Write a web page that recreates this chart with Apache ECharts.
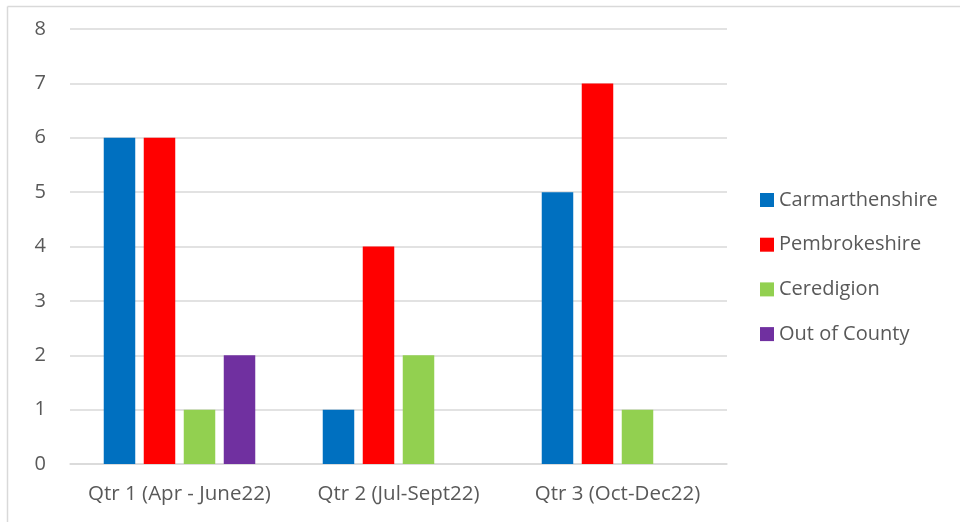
<!DOCTYPE html>
<html>
<head>
<meta charset="utf-8">
<script src="https://cdn.jsdelivr.net/npm/echarts@6/dist/echarts.min.js"></script>
<style>
  html, body { margin: 0; padding: 0; background: #fff; }
  #chart { width: 960px; height: 522px; }
</style>
</head>
<body>
<div id="chart"></div>
<script>
// Quarterly counts by county of residence
const categories = ['Qtr 1 (Apr - June22)', 'Qtr 2 (Jul-Sept22)', 'Qtr 3 (Oct-Dec22)'];
const carmarthenshire = [6, 1, 5];
const pembrokeshire = [6, 4, 7];
const ceredigion = [1, 2, 1];
const outOfCounty = [2, null, null];
const yTicks = { min: 0, max: 8, interval: 1 };

const FONT = '"Open Sans", "Liberation Sans", sans-serif';
const TEXT = '#595959';
const GRID = '#d9d9d9';

const chart = echarts.init(document.getElementById('chart'), null, { renderer: 'canvas' });

function bar(name, data, color) {
  return {
    name: name,
    type: 'bar',
    data: data,
    barWidth: 31.5,
    barGap: '27%',
    itemStyle: { color: color },
    emphasis: { disabled: true }
  };
}

chart.setOption({
  animation: false,
  backgroundColor: '#fff',
  textStyle: { fontFamily: FONT },
  grid: { left: 70, right: 233, top: 29, bottom: 58, containLabel: false },
  graphic: [
    // frame on the left and top edges
    { type: 'line', shape: { x1: 7.5, y1: 6.5, x2: 7.5, y2: 522 }, style: { stroke: GRID, lineWidth: 1.5 } },
    { type: 'line', shape: { x1: 7.5, y1: 6.5, x2: 960, y2: 6.5 }, style: { stroke: GRID, lineWidth: 1.5 } }
  ],
  legend: {
    orient: 'vertical',
    left: 760,
    top: 190,
    padding: 0,
    itemWidth: 14,
    itemHeight: 14,
    itemGap: 24.7,
    icon: 'rect',
    textStyle: { color: TEXT, fontSize: 20, lineHeight: 20, fontFamily: FONT, padding: [0, 0, 0, 0] },
    selectedMode: false
  },
  xAxis: {
    type: 'category',
    data: categories,
    axisLine: { show: true, lineStyle: { color: GRID, width: 1.5 } },
    axisTick: { show: false },
    axisLabel: { color: TEXT, fontSize: 20.5, margin: 20, fontFamily: FONT, interval: 0, hideOverlap: false }
  },
  yAxis: {
    type: 'value',
    min: yTicks.min,
    max: yTicks.max,
    interval: yTicks.interval,
    axisLine: { show: false },
    axisTick: { show: false },
    splitLine: { lineStyle: { color: GRID, width: 1.5 } },
    axisLabel: { color: TEXT, fontSize: 20, margin: 24, fontFamily: FONT }
  },
  series: [
    bar('Carmarthenshire', carmarthenshire, '#0070c0'),
    bar('Pembrokeshire', pembrokeshire, '#ff0000'),
    bar('Ceredigion', ceredigion, '#92d050'),
    bar('Out of County', outOfCounty, '#7030a0')
  ]
});
</script>
</body>
</html>
